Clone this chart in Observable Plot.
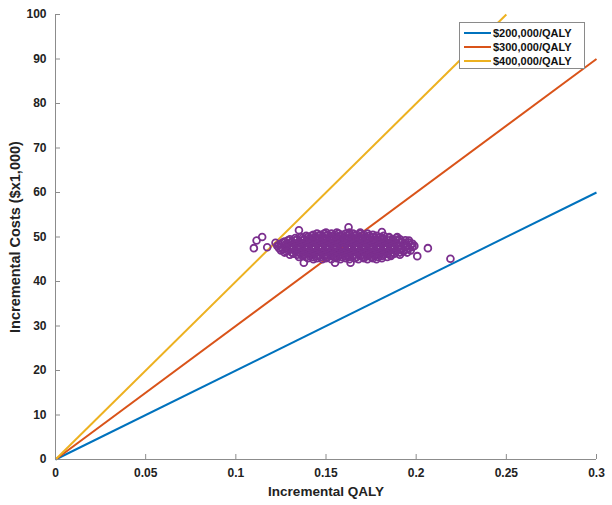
<!DOCTYPE html>
<html>
<head>
<meta charset="utf-8">
<script src="https://cdn.jsdelivr.net/npm/d3@7"></script>
<script src="https://cdn.jsdelivr.net/npm/@observablehq/plot@0.6"></script>
<style>
  html, body { margin: 0; padding: 0; background: #fff; }
  #wrap { position: relative; width: 612px; height: 505px; font-family: "Liberation Sans", Arial, sans-serif; }
  #legend { position: absolute; left: 459px; top: 22px; width: 126px; height: 47px; box-sizing: border-box;
            border: 1px solid #8a8a8a; background: #fff; padding: 3px 0 0 4px; }
  .item { display: flex; align-items: center; height: 14px; font-weight: bold; font-size: 11px; color: #111; }
  .sw { width: 27px; height: 2px; margin-right: 2px; }
</style>
</head>
<body>
<div id="wrap"><div id="legend"></div></div>
<script>
// Willingness-to-pay threshold lines
const wtpLabels = ["$200,000/QALY", "$300,000/QALY", "$400,000/QALY"];
const wtpColors = ["#0072BD", "#D95319", "#EDB120"];
const lineStartQaly = [0, 0, 0];
const lineStartCost = [0, 0, 0];
const lineEndQaly = [0.3, 0.3, 0.25];
const lineEndCost = [60, 90, 100];

// Axis ticks
const xTicks = [0, 0.05, 0.1, 0.15, 0.2, 0.25, 0.3];
const xTickLabels = ["0", "0.05", "0.1", "0.15", "0.2", "0.25", "0.3"];
const yTicks = [0, 10, 20, 30, 40, 50, 60, 70, 80, 90, 100];

// Simulation cloud (incremental cost in $1,000, then incremental QALYs)
const cloudRows = [
  [52.2, [0.1625]],
  [51.5, [0.135]],
  [51.1, [0.181]],
  [51.0, [0.150, 0.156, 0.163, 0.169]],
  [50.75, [0.145, 0.149, 0.153, 0.157, 0.161, 0.165, 0.169, 0.173]],
  [50.5, [0.143, 0.147, 0.151, 0.155, 0.159, 0.163, 0.167, 0.171, 0.176]],
  [50.25, [0.139, 0.142, 0.146, 0.150, 0.154, 0.158, 0.162, 0.166, 0.170, 0.174, 0.178, 0.182]],
  [50.0, [0.1146, 0.136, 0.140, 0.144, 0.148, 0.152, 0.156, 0.160, 0.164, 0.168, 0.172, 0.176, 0.180, 0.185, 0.1895]],
  [49.75, [0.133, 0.137, 0.141, 0.145, 0.149, 0.153, 0.157, 0.161, 0.165, 0.169, 0.173, 0.177, 0.181, 0.185, 0.189]],
  [49.5, [0.130, 0.134, 0.138, 0.142, 0.146, 0.150, 0.154, 0.158, 0.162, 0.166, 0.170, 0.174, 0.178, 0.182, 0.187, 0.191]],
  [49.25, [0.129, 0.133, 0.137, 0.141, 0.145, 0.149, 0.153, 0.157, 0.161, 0.165, 0.169, 0.173, 0.177, 0.181, 0.185, 0.189, 0.194]],
  [49.2, [0.1115, 0.196]],
  [49.0, [0.127, 0.131, 0.135, 0.139, 0.143, 0.147, 0.151, 0.155, 0.159, 0.163, 0.167, 0.171, 0.175, 0.179, 0.183, 0.187, 0.192]],
  [48.75, [0.126, 0.131, 0.135, 0.139, 0.143, 0.147, 0.151, 0.155, 0.159, 0.163, 0.167, 0.171, 0.175, 0.179, 0.183, 0.187, 0.191, 0.196]],
  [48.7, [0.122]],
  [48.5, [0.125, 0.129, 0.133, 0.137, 0.141, 0.145, 0.149, 0.153, 0.157, 0.161, 0.165, 0.169, 0.173, 0.177, 0.181, 0.185, 0.189, 0.194, 0.198]],
  [48.25, [0.124, 0.129, 0.133, 0.137, 0.141, 0.145, 0.149, 0.153, 0.157, 0.161, 0.165, 0.169, 0.173, 0.177, 0.181, 0.185, 0.189, 0.193, 0.197]],
  [48.0, [0.123, 0.127, 0.131, 0.135, 0.139, 0.143, 0.147, 0.151, 0.155, 0.159, 0.163, 0.167, 0.171, 0.175, 0.179, 0.183, 0.187, 0.191, 0.195, 0.199]],
  [47.75, [0.125, 0.130, 0.134, 0.138, 0.142, 0.146, 0.150, 0.154, 0.158, 0.162, 0.166, 0.170, 0.174, 0.178, 0.182, 0.186, 0.190, 0.194, 0.198]],
  [47.7, [0.1174]],
  [47.5, [0.110, 0.124, 0.128, 0.132, 0.136, 0.140, 0.144, 0.148, 0.152, 0.156, 0.160, 0.164, 0.168, 0.172, 0.176, 0.180, 0.184, 0.188, 0.192, 0.196, 0.2065]],
  [47.25, [0.126, 0.131, 0.135, 0.139, 0.143, 0.147, 0.151, 0.155, 0.159, 0.163, 0.167, 0.171, 0.175, 0.179, 0.183, 0.187, 0.191, 0.195]],
  [47.0, [0.125, 0.129, 0.133, 0.137, 0.141, 0.145, 0.149, 0.153, 0.157, 0.161, 0.165, 0.169, 0.173, 0.177, 0.181, 0.185, 0.189, 0.193, 0.197]],
  [46.75, [0.128, 0.133, 0.137, 0.141, 0.145, 0.149, 0.153, 0.157, 0.161, 0.165, 0.169, 0.173, 0.177, 0.181, 0.185, 0.189, 0.193]],
  [46.5, [0.127, 0.131, 0.135, 0.139, 0.143, 0.147, 0.151, 0.155, 0.159, 0.163, 0.167, 0.171, 0.175, 0.179, 0.183, 0.187, 0.191, 0.195]],
  [46.25, [0.132, 0.136, 0.140, 0.144, 0.148, 0.152, 0.156, 0.160, 0.164, 0.168, 0.172, 0.176, 0.180, 0.184, 0.188]],
  [46.0, [0.130, 0.134, 0.138, 0.142, 0.146, 0.150, 0.154, 0.158, 0.162, 0.166, 0.170, 0.174, 0.178, 0.182, 0.186, 0.191]],
  [45.75, [0.137, 0.141, 0.145, 0.149, 0.153, 0.157, 0.161, 0.165, 0.169, 0.173, 0.177, 0.181, 0.186]],
  [45.7, [0.2006]],
  [45.5, [0.135, 0.139, 0.143, 0.147, 0.151, 0.155, 0.159, 0.163, 0.167, 0.171, 0.175, 0.179, 0.184]],
  [45.25, [0.140, 0.145, 0.150, 0.156, 0.161, 0.166, 0.171, 0.176, 0.181]],
  [45.1, [0.219]],
  [45.0, [0.143, 0.148, 0.153, 0.158, 0.163, 0.168, 0.173, 0.178]],
  [44.2, [0.1377, 0.155, 0.1636]]
];

const lines = wtpLabels.map((label, i) => ({
  label, x1: lineStartQaly[i], y1: lineStartCost[i], x2: lineEndQaly[i], y2: lineEndCost[i]
}));
const cloud = cloudRows.flatMap(([cost, qs]) => qs.map(q => ({qaly: q, cost})));

const W = 612, H = 505;
const mL = 55, mR = 16, mT = 14, mB = 46;
const axisGray = "#8c8c8c";

const chart = Plot.plot({
  width: W, height: H,
  marginLeft: mL, marginRight: mR, marginTop: mT, marginBottom: mB,
  style: {fontFamily: "'Liberation Sans', Arial, sans-serif", background: "#fff", overflow: "visible"},
  x: {domain: [0, 0.3], ticks: xTicks, tickFormat: (d, i) => xTickLabels[i]},
  y: {domain: [0, 100], ticks: yTicks},
  color: {domain: wtpLabels, range: wtpColors},
  marks: [
    Plot.link(lines, {x1: "x1", y1: "y1", x2: "x2", y2: "y2", stroke: "label", strokeWidth: 2}),
    Plot.dot(cloud, {x: "qaly", y: "cost", r: 3.4, stroke: "#7B2F8E", strokeWidth: 1.8, fill: "none"}),
    Plot.ruleX([0], {stroke: axisGray}),
    Plot.ruleY([0], {stroke: axisGray}),
    Plot.tickY(yTicks, {y: d => d, stroke: axisGray, insetRight: W - mL - mR - 5}),
    Plot.tickX(xTicks, {x: d => d, stroke: axisGray, insetTop: H - mT - mB - 5}),
    Plot.axisY({ticks: yTicks, tickSize: 0, tickPadding: 9, fontSize: 12, fontWeight: "bold", fill: "#222",
                label: null}),
    Plot.axisX({ticks: xTicks, tickSize: 0, tickPadding: 9, fontSize: 12, fontWeight: "bold", fill: "#222",
                tickFormat: (d, i) => xTickLabels[i], label: null}),
    Plot.text(["Incremental QALY"], {frameAnchor: "bottom", dy: 36, fontSize: 13.5, fontWeight: "bold", fill: "#222"}),
    Plot.text(["Incremental Costs ($x1,000)"], {frameAnchor: "left", textAnchor: "middle", dx: -40, rotate: -90,
                fontSize: 14.5, fontWeight: "bold", fill: "#222"})
  ]
});

const wrap = document.getElementById("wrap");
wrap.insertBefore(chart, wrap.firstChild);

const legend = document.getElementById("legend");
wtpLabels.forEach((label, i) => {
  const item = document.createElement("div");
  item.className = "item";
  const sw = document.createElement("span");
  sw.className = "sw";
  sw.style.background = wtpColors[i];
  const t = document.createElement("span");
  t.textContent = label;
  item.appendChild(sw);
  item.appendChild(t);
  legend.appendChild(item);
});
</script>
</body>
</html>
